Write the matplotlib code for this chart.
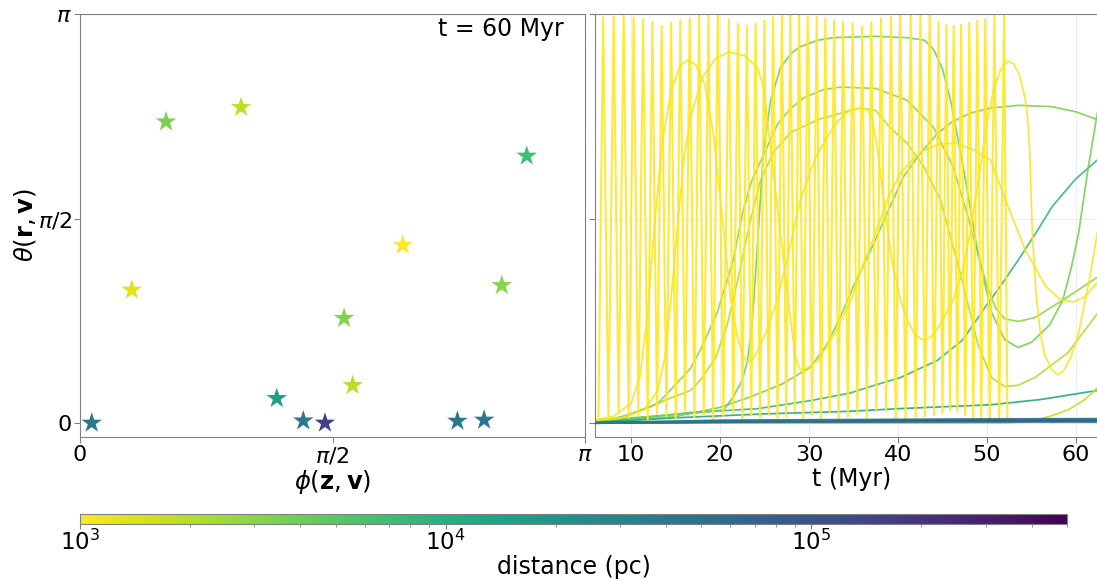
import numpy as np
import matplotlib
matplotlib.use("Agg")
import matplotlib.pyplot as plt
from matplotlib.colors import LogNorm
from matplotlib.cm import ScalarMappable

# --- stars at t = 60 Myr (left panel) ---
star_phi = [0.073, 0.322, 0.535, 1.002, 1.224, 1.389, 1.524, 1.643, 1.696, 2.008, 2.348, 2.514, 2.624, 2.779]
star_theta = [0.0, 1.021, 2.314, 2.425, 0.189, 0.017, 0.0, 0.804, 0.289, 1.367, 0.015, 0.023, 1.057, 2.051]
star_dist = [4.2e4, 1.36e3, 3.5e3, 1.86e3, 1.6e4, 4.2e4, 1.45e5, 3.3e3, 1.9e3, 1.0e3, 4.2e4, 4.2e4, 3.1e3, 6.5e3]

# --- theta(r, v) tracks vs time (right panel) ---
# fast oscillating track: peaks and troughs
fast_peak_t = [6.87, 8.06, 9.18, 10.30, 11.36, 12.40, 13.45, 14.51, 15.55, 16.60, 17.65, 18.70, 19.76,
               21.00, 22.01, 23.02, 24.00, 24.99, 25.97, 26.96, 27.91, 28.89, 29.85, 30.87, 31.84, 32.82,
               33.83, 34.90, 35.98, 37.01, 38.10, 39.22, 40.27, 41.43, 42.52, 43.56, 44.56, 45.44, 46.26,
               47.09, 48.02, 48.92, 49.80, 50.83, 51.92]
fast_peak_th = [3.116, 3.121, 3.134, 3.116, 3.100, 3.082, 3.049, 3.075, 3.095, 3.108, 3.134, 3.142, 3.142,
                3.100, 3.065, 3.049, 3.065, 3.090, 3.116, 3.126, 3.134, 3.142, 3.121, 3.121, 3.108, 3.095,
                3.082, 3.070, 3.044, 3.080, 3.108, 3.121, 3.134, 3.134, 3.142, 3.134, 3.082, 3.057, 3.049,
                3.057, 3.075, 3.090, 3.100, 3.134, 3.142]
fast_trough_t = [6.35, 7.47, 8.62, 9.74, 10.83, 11.88, 12.93, 13.98, 15.03, 16.08, 17.13, 18.18, 19.23,
                 20.38, 21.50, 22.52, 23.51, 24.50, 25.48, 26.47, 27.44, 28.40, 29.37, 30.36, 31.36, 32.33,
                 33.33, 34.37, 35.44, 36.50, 37.56, 38.66, 39.75, 40.85, 41.98, 43.04, 44.06, 45.00, 45.85,
                 46.68, 47.56, 48.47, 49.36, 50.32, 51.38, 52.30]
fast_trough_th = [0.05, 0.03, 0.08, 0.04, 0.06, 0.02, 0.07, 0.05, 0.03, 0.09, 0.04, 0.06, 0.02,
                  0.05, 0.08, 0.03, 0.06, 0.04, 0.07, 0.02, 0.05, 0.09, 0.03, 0.06, 0.04, 0.08,
                  0.02, 0.05, 0.07, 0.04, 0.10, 0.09, 0.03, 0.03, 0.04, 0.05, 0.06, 0.08, 0.10,
                  0.09, 0.06, 0.04, 0.03, 0.02, 0.02, 0.01]

t_b = [5.5, 8, 10, 11, 11.8, 12.7, 13.5, 14.5, 15.5, 16.4, 17.3, 18.3, 19.3, 20.3, 21.2, 22.0, 22.6, 23.05,
       23.6, 24.2, 25.3, 26.4, 27.7, 29.0, 30.8, 32.7, 33.8, 34.6, 35.8, 36.5, 37.1, 37.7, 38.4, 39.3, 40.3,
       41.0, 41.8, 42.7, 43.5, 44.2, 45.0, 46.2, 47.2, 48.1, 49.0, 50.0, 50.7, 51.5, 52.3, 53.0, 53.6, 54.1,
       54.5, 54.8, 55.1, 55.5, 56.0, 56.5, 57.2, 57.9, 58.6, 59.4, 60.3, 61.5, 62.4, 63.6]
th_b = [0.02, 0.05, 0.15, 0.35, 0.8, 1.56, 2.15, 2.55, 2.74, 2.79, 2.75, 2.6, 2.2, 1.56, 0.95, 0.65, 0.52, 0.47,
        0.48, 0.55, 0.72, 0.94, 1.3, 1.71, 2.05, 2.27, 2.36, 2.40, 2.42, 2.41, 2.34, 2.1, 1.71, 1.25, 0.94,
        0.8, 0.69, 0.64, 0.65, 0.7, 0.79, 0.94, 1.15, 1.46, 1.85, 2.3, 2.55, 2.71, 2.78, 2.76, 2.68, 2.55,
        2.4, 2.1, 1.46, 1.0, 0.69, 0.52, 0.42, 0.37, 0.4, 0.5, 0.69, 1.1, 1.46, 1.95]

t_c = [5.5, 9, 11.5, 13, 13.8, 14.5, 15.3, 16.0, 16.7, 18.0, 19.5, 21.0, 22.8, 24.2, 24.9, 25.7, 26.8, 27.9,
       28.5, 29.0, 29.8, 31.0, 33.0, 34.7, 36.0, 37.5, 39.0, 40.3, 42.5, 44.5, 46.4, 48.5, 50.4, 52.1, 54.3,
       56.6, 58.2, 59.7, 61.0, 62.4, 63.6]
th_c = [0.02, 0.04, 0.1, 0.25, 0.5, 0.95, 1.56, 2.05, 2.35, 2.65, 2.8, 2.85, 2.82, 2.73, 2.58, 2.1, 1.46, 0.81,
        0.5, 0.41, 0.42, 0.48, 0.7, 0.94, 1.2, 1.46, 1.75, 1.92, 2.08, 2.14, 2.15, 2.1, 2.02, 1.71, 1.33,
        1.05, 0.95, 0.93, 0.97, 1.08, 1.2]

t_d = [5.5, 10, 14, 17.8, 20.4, 21.5, 22.5, 23.1, 23.5, 23.8, 24.3, 24.9, 25.7, 26.8, 28.0, 29.0, 31.0, 32.7,
       37.5, 41.0, 43.0, 44.0, 45.0, 46.0, 47.5, 49.0, 50.5, 52.0, 53.5, 55.0, 57.0, 58.5, 59.5, 60.3, 61.4,
       62.4, 63.6]
th_d = [0.02, 0.04, 0.06, 0.08, 0.1, 0.2, 0.33, 0.48, 0.7, 0.94, 1.46, 2.1, 2.48, 2.73, 2.84, 2.89, 2.94, 2.96,
        2.97, 2.96, 2.94, 2.87, 2.72, 2.45, 1.9, 1.3, 0.85, 0.64, 0.58, 0.62, 0.75, 0.94, 1.2, 1.46, 1.97,
        2.38, 2.75]

t_e = [5.5, 8, 10, 13, 14.8, 16.7, 17.8, 19.7, 21.5, 22.5, 23.5, 24.5, 26.5, 28.0, 29.5, 31.6, 33.5, 37.5,
       41.0, 44.0, 46.2, 48.0, 50.0, 51.0, 52.0, 53.5, 55.4, 59.1, 62.4, 63.6]
th_e = [0.0, 0.03, 0.07, 0.15, 0.28, 0.42, 0.56, 0.85, 1.25, 1.6, 1.85, 2.0, 2.3, 2.42, 2.5, 2.56, 2.58, 2.57,
        2.48, 2.27, 1.97, 1.55, 1.05, 0.88, 0.8, 0.78, 0.81, 0.97, 1.12, 1.18]

t_f = [5.5, 9.1, 12, 14, 16.7, 17.8, 19.5, 20.8, 22.0, 23.4, 24.5, 26.0, 27.9, 31.0, 34.6, 35.8, 37.5, 39.1,
       41.0, 42.9, 44.8, 47.0, 49.0, 50.5, 52.0, 53.5, 55.4, 59.1, 62.4, 63.6]
th_f = [0.0, 0.05, 0.12, 0.18, 0.25, 0.33, 0.5, 0.75, 1.1, 1.55, 1.85, 2.08, 2.23, 2.33, 2.40, 2.42, 2.40, 2.27,
        2.15, 1.97, 1.71, 1.15, 0.6, 0.35, 0.28, 0.29, 0.35, 0.54, 0.84, 0.98]

t_i = [5.5, 15, 20, 23.4, 27, 30.2, 32.0, 33.5, 35.0, 36.9, 39.1, 40.6, 42.5, 44.4, 46.0, 48.1, 50.4, 53.5,
       57.3, 60.0, 62.4, 63.6]
th_i = [0.0, 0.05, 0.12, 0.2, 0.3, 0.43, 0.6, 0.81, 1.05, 1.32, 1.66, 1.89, 2.07, 2.22, 2.31, 2.38, 2.42, 2.44,
        2.43, 2.39, 2.33, 2.28]

t_j = [5.5, 16.7, 24.2, 30.0, 34.6, 36.9, 40.3, 44.4, 47.3, 49.8, 51.5, 53.5, 55.5, 57.3, 59.9, 62.4, 63.6]
th_j = [0.0, 0.08, 0.11, 0.17, 0.23, 0.28, 0.35, 0.48, 0.64, 0.89, 1.05, 1.25, 1.46, 1.66, 1.87, 2.02, 2.1]

t_k = [5.5, 15, 25, 34.6, 40, 50.4, 56, 62.4, 63.6]
th_k = [0.0, 0.04, 0.07, 0.09, 0.11, 0.14, 0.18, 0.25, 0.26]

t_l = [5.5, 30, 52, 54.7, 57, 59.1, 61, 62.4, 63.6]
th_l = [0.0, 0.005, 0.0, 0.01, 0.05, 0.1, 0.18, 0.27, 0.35]

t_band = [5.5, 20, 35, 50, 63.6]
th_band = [[0.0, 0.01, 0.015, 0.02, 0.02],
           [0.0, 0.015, 0.02, 0.025, 0.03],
           [0.0, 0.008, 0.012, 0.015, 0.015],
           [0.0, 0.02, 0.025, 0.03, 0.032],
           [0.0, 0.005, 0.006, 0.008, 0.008]]
band_dist = [4.2e4, 4.2e4, 1.45e5, 4.5e4, 3.8e4]

track_dist = {"fast": 1.0e3, "b": 1.05e3, "c": 1.08e3, "d": 3.7e3, "e": 2.9e3, "f": 2.0e3,
              "i": 3.4e3, "j": 7.5e3, "k": 1.2e4, "l": 1.8e3}

cmap = plt.get_cmap("viridis_r")
norm = LogNorm(vmin=1e3, vmax=5e5)
spine_grey = "#808080"

fig = plt.figure(figsize=(10.97, 5.79), dpi=100)
ax1 = fig.add_axes([80 / 1097, 1 - 437 / 579, 505 / 1097, 423 / 579])
ax2 = fig.add_axes([595 / 1097, 1 - 437 / 579, 513 / 1097, 423 / 579], sharey=ax1)
cax = fig.add_axes([80 / 1097, 1 - 524 / 579, 987 / 1097, 10 / 579])

# left panel
ax1.scatter(star_phi, star_theta, c=star_dist, cmap=cmap, norm=norm, marker="*", s=240,
            linewidths=0, zorder=3)
ax1.set_xlim(0, np.pi)
ax1.set_ylim(-0.1075, np.pi)
ax1.set_xticks([0, np.pi / 2, np.pi])
ax1.set_xticklabels(["0", r"$\pi/2$", r"$\pi$"])
ax1.set_yticks([0, np.pi / 2, np.pi])
ax1.set_yticklabels(["0", r"$\pi/2$", r"$\pi$"])
ax1.set_xlabel(r"$\phi(\mathbf{z}, \mathbf{v})$", fontsize=17.5, labelpad=1)
ax1.set_ylabel(r"$\theta(\mathbf{r}, \mathbf{v})$", fontsize=17.5, labelpad=0)
ax1.text(0.957, 0.965, "t = 60 Myr", transform=ax1.transAxes, ha="right", va="center", fontsize=17)

# right panel
order = np.argsort(fast_peak_t + fast_trough_t)
t_fast = np.array(fast_peak_t + fast_trough_t)[order]
th_fast = np.array(fast_peak_th + fast_trough_th)[order]

tracks = [
    (t_i, th_i, track_dist["i"], 1.25),
    (t_j, th_j, track_dist["j"], 1.25),
    (t_k, th_k, track_dist["k"], 1.25),
    (t_l, th_l, track_dist["l"], 1.25),
    (t_f, th_f, track_dist["f"], 1.25),
    (t_e, th_e, track_dist["e"], 1.25),
    (t_d, th_d, track_dist["d"], 1.25),
    (t_fast, th_fast, track_dist["fast"], 1.5),
    (t_c, th_c, track_dist["c"], 1.25),
    (t_b, th_b, track_dist["b"], 1.25),
]
for t, th, d, lw in tracks:
    ax2.plot(t, th, color=cmap(norm(d)), lw=lw, alpha=0.9, solid_joinstyle="round")
for th, d in zip(th_band, band_dist):
    ax2.plot(t_band, th, color=cmap(norm(d)), lw=1.6, alpha=0.85, zorder=4)

ax2.set_xlim(5.96, 5.96 + 513 / 8.9)
ax2.set_xticks([10, 20, 30, 40, 50, 60])
ax2.tick_params(axis="y", labelleft=False)
ax2.set_xlabel("t (Myr)", fontsize=17, labelpad=1)
ax2.grid(True, color="#eeeeee", lw=0.8)
ax2.set_axisbelow(True)

for ax in (ax1, ax2):
    for sp in ax.spines.values():
        sp.set_color(spine_grey)
    ax.tick_params(colors=spine_grey, labelcolor="black", labelsize=16, length=4, pad=2)
ax2.spines["right"].set_visible(False)

# colorbar
cb = fig.colorbar(ScalarMappable(norm=norm, cmap=cmap), cax=cax, orientation="horizontal")
cb.outline.set_edgecolor(spine_grey)
cax.tick_params(which="both", colors=spine_grey, labelcolor="black", labelsize=16.5, pad=0.5)
cb.set_label("distance (pc)", fontsize=17, labelpad=0)

fig.savefig("out.png", dpi=100)
